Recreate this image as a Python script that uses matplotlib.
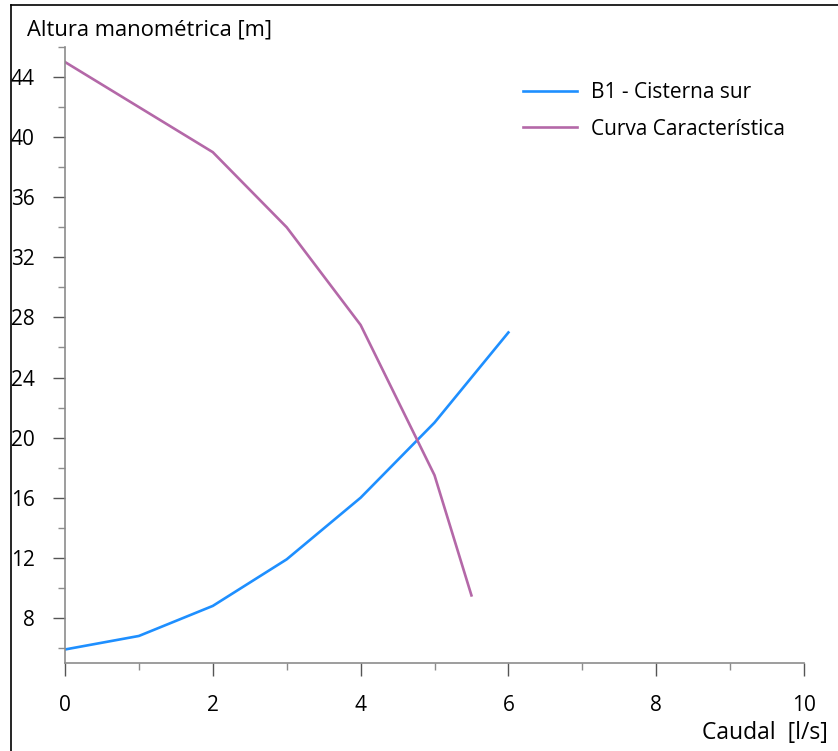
import matplotlib
matplotlib.use("Agg")
import matplotlib.pyplot as plt
from matplotlib.lines import Line2D
from matplotlib.ticker import MultipleLocator

plt.rcParams['font.family'] = ['Open Sans', 'DejaVu Sans']

# Data
caudal_sistema = [0, 1, 2, 3, 4, 5, 6]
altura_sistema = [5.9, 6.8, 8.8, 11.9, 16.0, 21.0, 27.0]
caudal_bomba = [0, 1, 2, 3, 4, 5, 5.5]
altura_bomba = [45.0, 42.0, 39.0, 34.0, 27.5, 17.5, 9.5]
serie_labels = ["B1 - Cisterna sur", "Curva Característica"]
title_text = "Altura manométrica [m]"
xlabel_text = "Caudal  [l/s]"

W, H = 838, 751
fig = plt.figure(figsize=(W / 100, H / 100), dpi=100)
ax = fig.add_axes([65 / W, 1 - 663 / H, (804 - 65) / W, (663 - 47) / H])

ax.plot(caudal_sistema, altura_sistema, color='#1E8FFF', lw=1.9, label=serie_labels[0])
ax.plot(caudal_bomba, altura_bomba, color='#B468A8', lw=1.9, label=serie_labels[1])

ax.set_xlim(0, 10)
ax.set_ylim(5, 46)
ax.xaxis.set_major_locator(MultipleLocator(2))
ax.xaxis.set_minor_locator(MultipleLocator(1))
ax.yaxis.set_major_locator(MultipleLocator(4))
ax.yaxis.set_minor_locator(MultipleLocator(2))
ax.set_yticks([8, 12, 16, 20, 24, 28, 32, 36, 40, 44])

for s in ['top', 'right']:
    ax.spines[s].set_visible(False)
for s in ['left', 'bottom']:
    ax.spines[s].set_color('#8c8c8c')
    ax.spines[s].set_linewidth(1.2)

ax.tick_params(axis='both', which='major', direction='out', length=9,
               width=1.0, color='#555555', labelsize=15, labelcolor='black')
ax.tick_params(axis='both', which='minor', direction='out', length=5,
               width=1.0, color='#8c8c8c')
ax.tick_params(axis='y', which='major', pad=13)
ax.tick_params(axis='x', which='major', pad=14)

fig.text(27 / W, 1 - 30 / H, title_text, fontsize=15.8, ha='left', va='center')
fig.text(828 / W, 1 - 733 / H, xlabel_text, fontsize=16.5, ha='right', va='center')

leg = ax.legend(loc='upper left', bbox_to_anchor=(523 / W, 1 - 82 / H),
                bbox_transform=fig.transFigure, frameon=False, fontsize=15,
                handlelength=2.6, handletextpad=0.65, labelspacing=0.75,
                borderaxespad=0, borderpad=0)

# Figure frame lines (left and top)
fig.add_artist(Line2D([11 / W, 11 / W], [0, 1 - 5 / H], color='black', lw=1.2,
                      transform=fig.transFigure))
fig.add_artist(Line2D([11 / W, 1], [1 - 5 / H, 1 - 5 / H], color='black', lw=1.2,
                      transform=fig.transFigure))

fig.savefig("out.png", dpi=100)
